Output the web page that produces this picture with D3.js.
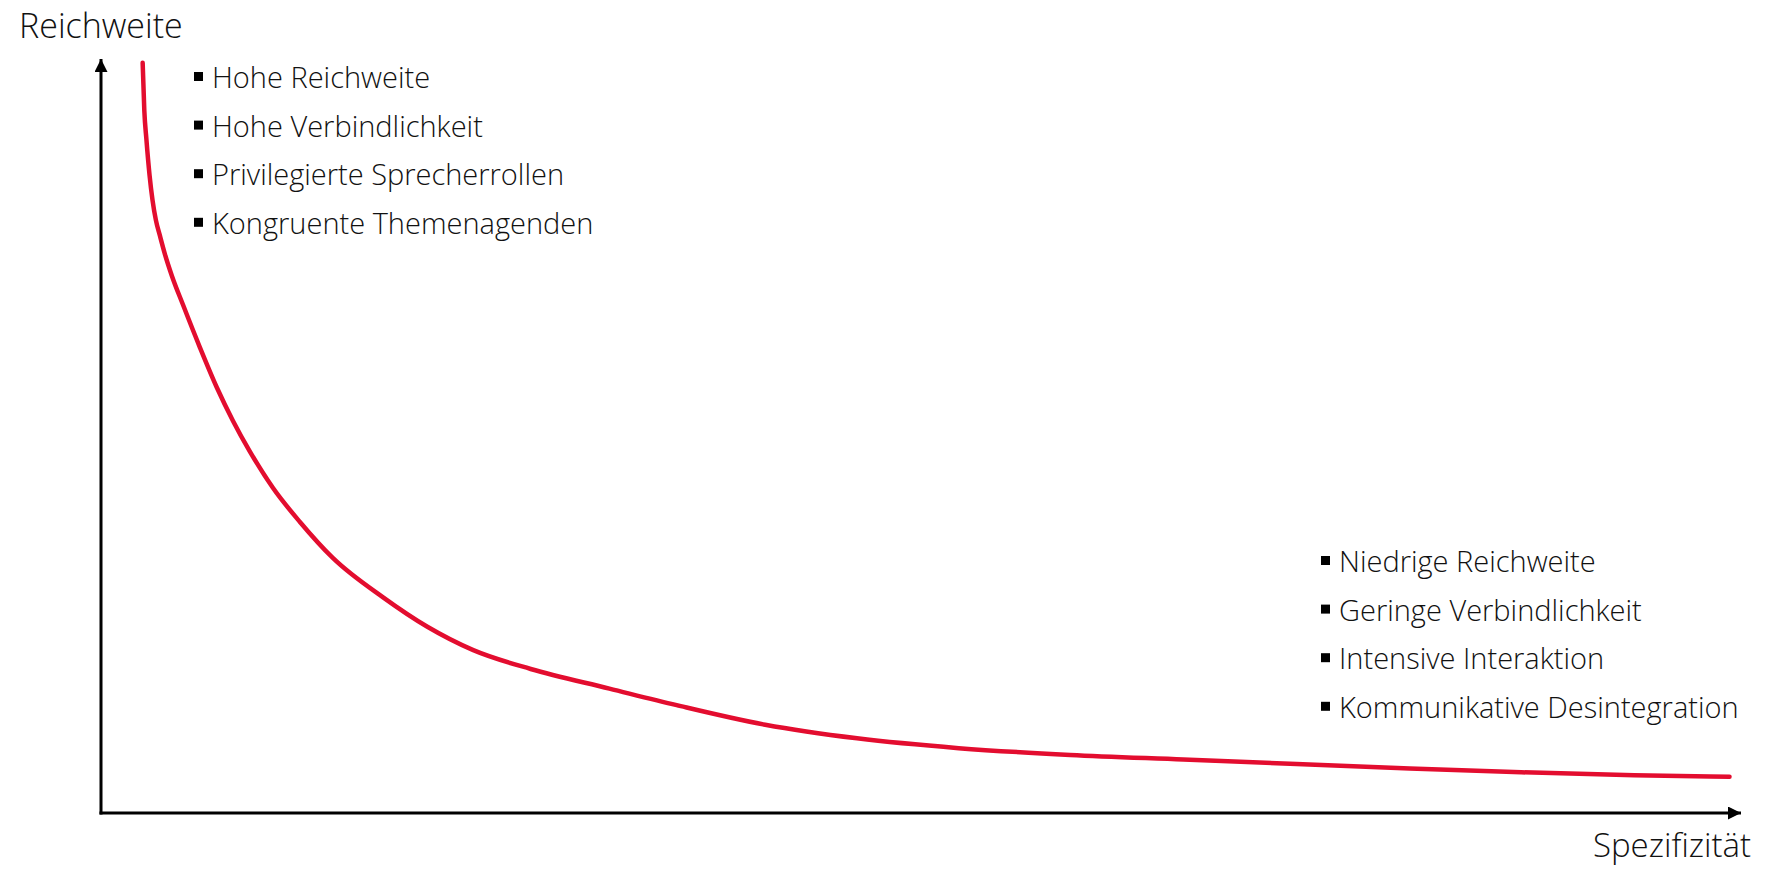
<!DOCTYPE html>
<html>
  <head>
    <meta charset="utf-8" />
    <title>Reichweite und Spezifizität</title>
    <script src="https://d3js.org/d3.v7.min.js"></script>
    <style>
      body { margin: 0; background: #fff; }
      text { font-family: "Open Sans", sans-serif; font-weight: 300; fill: #111; }
    </style>
  </head>
  <body>
    <svg id="chart" width="1765" height="869"></svg>

    <script>
      // Kurve: Spezifizität (x) gegen Reichweite (y), beide 0–100
      const spezifizitaet = [2.54, 2.64, 2.77, 2.96, 3.14, 3.35, 3.6, 3.9, 4.33, 5.0, 6.04, 7.07, 8.05, 9.09, 10.49, 12.13, 14.15, 17.2, 19.9, 22.7, 26.2, 31.0, 35.1, 40.5, 46.1, 52.3, 59.1, 66.0, 72.9, 79.8, 86.6, 93.5, 99.3];
      const reichweite = [99.5, 93.2, 89.3, 84.6, 81.3, 78.6, 76.5, 74.1, 71.2, 67.4, 61.7, 56.4, 52.0, 47.9, 43.1, 38.6, 33.8, 28.6, 24.7, 21.6, 19.1, 16.5, 14.3, 11.7, 9.9, 8.6, 7.7, 7.1, 6.5, 5.9, 5.4, 5.0, 4.8];

      const obenListe = ["Hohe Reichweite", "Hohe Verbindlichkeit", "Privilegierte Sprecherrollen", "Kongruente Themenagenden"];
      const untenListe = ["Niedrige Reichweite", "Geringe Verbindlichkeit", "Intensive Interaktion", "Kommunikative Desintegration"];

      const svg = d3.select("#chart");

      const x0 = 101, x1 = 1741, y0 = 813, y1 = 59;
      const x = d3.scaleLinear().domain([0, 100]).range([x0, x1]);
      const y = d3.scaleLinear().domain([0, 100]).range([y0, y1]);

      // Pfeilspitze
      svg.append("defs")
        .append("marker")
        .attr("id", "pfeil")
        .attr("viewBox", "0 0 10 10")
        .attr("refX", 10)
        .attr("refY", 5)
        .attr("markerUnits", "userSpaceOnUse")
        .attr("markerWidth", 14)
        .attr("markerHeight", 13)
        .attr("orient", "auto")
        .append("path")
        .attr("d", "M0,0 L10,5 L0,10 Z")
        .attr("fill", "#000");

      // Achsen
      svg.append("line")
        .attr("x1", x(0)).attr("y1", y(0) + 1.5)
        .attr("x2", x(0)).attr("y2", y(100))
        .attr("stroke", "#000").attr("stroke-width", 3)
        .attr("marker-end", "url(#pfeil)");
      svg.append("line")
        .attr("x1", x(0) - 1.5).attr("y1", y(0))
        .attr("x2", x(100)).attr("y2", y(0))
        .attr("stroke", "#000").attr("stroke-width", 3)
        .attr("marker-end", "url(#pfeil)");

      // rote Kurve
      const punkte = spezifizitaet.map((d, i) => [d, reichweite[i]]);
      const linie = d3.line()
        .x((d) => x(d[0]))
        .y((d) => y(d[1]))
        .curve(d3.curveMonotoneX);
      svg.append("path")
        .datum(punkte)
        .attr("d", linie)
        .attr("fill", "none")
        .attr("stroke", "#e30d2f")
        .attr("stroke-width", 4.5)
        .attr("stroke-linecap", "round");

      // Achsentitel
      svg.append("text")
        .attr("x", 19).attr("y", 38)
        .style("font-size", "34px")
        .text("Reichweite");
      svg.append("text")
        .attr("x", 1751).attr("y", 857)
        .attr("text-anchor", "end")
        .style("font-size", "33px")
        .text("Spezifizität");

      // Aufzählungen
      function liste(items, bx, by) {
        const g = svg.append("g");
        items.forEach((t, i) => {
          const yy = by + i * 48.6;
          g.append("rect")
            .attr("x", bx).attr("y", yy - 16)
            .attr("width", 9).attr("height", 9)
            .attr("fill", "#000");
          g.append("text")
            .attr("x", bx + 18).attr("y", yy)
            .style("font-size", "29px")
            .text(t);
        });
      }
      liste(obenListe, 194, 88);
      liste(untenListe, 1321, 572);
    </script>
  </body>
</html>
